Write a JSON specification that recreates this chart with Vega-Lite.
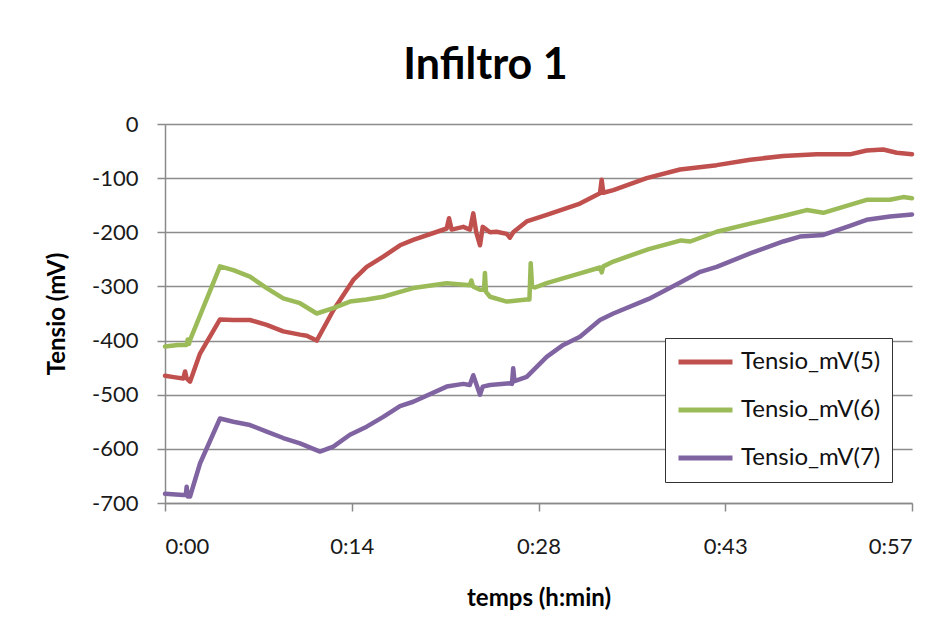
{
  "$schema": "https://vega.github.io/schema/vega-lite/v6.json",
  "width": 747,
  "height": 379,
  "autosize": {"type": "none"},
  "padding": {"left": 165, "top": 124, "right": 38, "bottom": 138},
  "background": "#ffffff",
  "title": {
    "text": "Infiltro 1",
    "font": "Lato",
    "fontSize": 43,
    "fontWeight": "bold",
    "color": "#000000",
    "anchor": "middle",
    "frame": "group",
    "dx": -53,
    "dy": 43,
    "offset": 34,
    "baseline": "alphabetic"
  },
  "config": {
    "font": "Lato",
    "view": {"stroke": null},
    "axis": {
      "domainColor": "#8a8a8a",
      "domainWidth": 1.5,
      "tickColor": "#8a8a8a",
      "tickWidth": 1.5,
      "tickSize": 8,
      "gridColor": "#8c8c8c",
      "gridWidth": 1.5,
      "labelFont": "Lato",
      "labelFontSize": 22,
      "labelColor": "#1a1a1a",
      "titleFont": "Lato",
      "titleFontSize": 24,
      "titleFontWeight": "bold",
      "titleColor": "#000000"
    },
    "legend": {
      "labelFont": "Lato"
    }
  },
  "data": {
    "values": [
      {"serie": "Tensio_mV(5)", "t": 0, "v": -465},
      {"serie": "Tensio_mV(5)", "t": 0.8, "v": -468},
      {"serie": "Tensio_mV(5)", "t": 1.41, "v": -470},
      {"serie": "Tensio_mV(5)", "t": 1.55, "v": -457},
      {"serie": "Tensio_mV(5)", "t": 1.67, "v": -470},
      {"serie": "Tensio_mV(5)", "t": 1.93, "v": -476},
      {"serie": "Tensio_mV(5)", "t": 2.7, "v": -424},
      {"serie": "Tensio_mV(5)", "t": 4.24, "v": -361},
      {"serie": "Tensio_mV(5)", "t": 5.27, "v": -362},
      {"serie": "Tensio_mV(5)", "t": 6.55, "v": -362},
      {"serie": "Tensio_mV(5)", "t": 7.84, "v": -371},
      {"serie": "Tensio_mV(5)", "t": 9.12, "v": -383},
      {"serie": "Tensio_mV(5)", "t": 10.41, "v": -389},
      {"serie": "Tensio_mV(5)", "t": 10.93, "v": -391},
      {"serie": "Tensio_mV(5)", "t": 11.7, "v": -400},
      {"serie": "Tensio_mV(5)", "t": 12.98, "v": -344},
      {"serie": "Tensio_mV(5)", "t": 14.52, "v": -288},
      {"serie": "Tensio_mV(5)", "t": 15.55, "v": -264},
      {"serie": "Tensio_mV(5)", "t": 16.83, "v": -245},
      {"serie": "Tensio_mV(5)", "t": 18.12, "v": -224},
      {"serie": "Tensio_mV(5)", "t": 19.14, "v": -214},
      {"serie": "Tensio_mV(5)", "t": 21.72, "v": -193},
      {"serie": "Tensio_mV(5)", "t": 21.9, "v": -174},
      {"serie": "Tensio_mV(5)", "t": 22.1, "v": -195},
      {"serie": "Tensio_mV(5)", "t": 23.0, "v": -190},
      {"serie": "Tensio_mV(5)", "t": 23.52, "v": -195},
      {"serie": "Tensio_mV(5)", "t": 23.77, "v": -165},
      {"serie": "Tensio_mV(5)", "t": 24.0, "v": -200},
      {"serie": "Tensio_mV(5)", "t": 24.29, "v": -224},
      {"serie": "Tensio_mV(5)", "t": 24.5, "v": -190},
      {"serie": "Tensio_mV(5)", "t": 25.06, "v": -200},
      {"serie": "Tensio_mV(5)", "t": 25.57, "v": -199},
      {"serie": "Tensio_mV(5)", "t": 26.35, "v": -203},
      {"serie": "Tensio_mV(5)", "t": 26.6, "v": -210},
      {"serie": "Tensio_mV(5)", "t": 26.85, "v": -200},
      {"serie": "Tensio_mV(5)", "t": 27.89, "v": -180},
      {"serie": "Tensio_mV(5)", "t": 29.43, "v": -168},
      {"serie": "Tensio_mV(5)", "t": 32.0, "v": -147},
      {"serie": "Tensio_mV(5)", "t": 33.54, "v": -128},
      {"serie": "Tensio_mV(5)", "t": 33.67, "v": -103},
      {"serie": "Tensio_mV(5)", "t": 33.8, "v": -127},
      {"serie": "Tensio_mV(5)", "t": 34.57, "v": -122},
      {"serie": "Tensio_mV(5)", "t": 37.14, "v": -100},
      {"serie": "Tensio_mV(5)", "t": 39.71, "v": -84},
      {"serie": "Tensio_mV(5)", "t": 42.54, "v": -76},
      {"serie": "Tensio_mV(5)", "t": 45.12, "v": -66},
      {"serie": "Tensio_mV(5)", "t": 47.67, "v": -59},
      {"serie": "Tensio_mV(5)", "t": 50.25, "v": -56},
      {"serie": "Tensio_mV(5)", "t": 52.81, "v": -56},
      {"serie": "Tensio_mV(5)", "t": 54.1, "v": -49},
      {"serie": "Tensio_mV(5)", "t": 55.38, "v": -47},
      {"serie": "Tensio_mV(5)", "t": 56.42, "v": -53},
      {"serie": "Tensio_mV(5)", "t": 57.6, "v": -56},

      {"serie": "Tensio_mV(6)", "t": 0, "v": -411},
      {"serie": "Tensio_mV(6)", "t": 1.0, "v": -408},
      {"serie": "Tensio_mV(6)", "t": 1.67, "v": -408},
      {"serie": "Tensio_mV(6)", "t": 1.75, "v": -398},
      {"serie": "Tensio_mV(6)", "t": 1.85, "v": -406},
      {"serie": "Tensio_mV(6)", "t": 1.93, "v": -399},
      {"serie": "Tensio_mV(6)", "t": 4.24, "v": -263},
      {"serie": "Tensio_mV(6)", "t": 5.27, "v": -270},
      {"serie": "Tensio_mV(6)", "t": 6.55, "v": -282},
      {"serie": "Tensio_mV(6)", "t": 7.84, "v": -303},
      {"serie": "Tensio_mV(6)", "t": 9.12, "v": -322},
      {"serie": "Tensio_mV(6)", "t": 10.41, "v": -331},
      {"serie": "Tensio_mV(6)", "t": 11.7, "v": -350},
      {"serie": "Tensio_mV(6)", "t": 12.98, "v": -340},
      {"serie": "Tensio_mV(6)", "t": 14.26, "v": -328},
      {"serie": "Tensio_mV(6)", "t": 15.55, "v": -324},
      {"serie": "Tensio_mV(6)", "t": 16.83, "v": -319},
      {"serie": "Tensio_mV(6)", "t": 18.12, "v": -310},
      {"serie": "Tensio_mV(6)", "t": 19.14, "v": -303},
      {"serie": "Tensio_mV(6)", "t": 21.72, "v": -294},
      {"serie": "Tensio_mV(6)", "t": 23.52, "v": -298},
      {"serie": "Tensio_mV(6)", "t": 23.62, "v": -289},
      {"serie": "Tensio_mV(6)", "t": 23.75, "v": -300},
      {"serie": "Tensio_mV(6)", "t": 24.29, "v": -306},
      {"serie": "Tensio_mV(6)", "t": 24.6, "v": -306},
      {"serie": "Tensio_mV(6)", "t": 24.67, "v": -275},
      {"serie": "Tensio_mV(6)", "t": 24.75, "v": -310},
      {"serie": "Tensio_mV(6)", "t": 25.06, "v": -319},
      {"serie": "Tensio_mV(6)", "t": 26.35, "v": -328},
      {"serie": "Tensio_mV(6)", "t": 27.89, "v": -324},
      {"serie": "Tensio_mV(6)", "t": 28.1, "v": -324},
      {"serie": "Tensio_mV(6)", "t": 28.2, "v": -257},
      {"serie": "Tensio_mV(6)", "t": 28.3, "v": -300},
      {"serie": "Tensio_mV(6)", "t": 28.53, "v": -302},
      {"serie": "Tensio_mV(6)", "t": 29.43, "v": -294},
      {"serie": "Tensio_mV(6)", "t": 32.0, "v": -276},
      {"serie": "Tensio_mV(6)", "t": 33.54, "v": -265},
      {"serie": "Tensio_mV(6)", "t": 33.67, "v": -274},
      {"serie": "Tensio_mV(6)", "t": 33.8, "v": -263},
      {"serie": "Tensio_mV(6)", "t": 34.57, "v": -254},
      {"serie": "Tensio_mV(6)", "t": 37.3, "v": -231},
      {"serie": "Tensio_mV(6)", "t": 39.8, "v": -215},
      {"serie": "Tensio_mV(6)", "t": 40.5, "v": -217},
      {"serie": "Tensio_mV(6)", "t": 42.54, "v": -199},
      {"serie": "Tensio_mV(6)", "t": 45.12, "v": -184},
      {"serie": "Tensio_mV(6)", "t": 47.67, "v": -170},
      {"serie": "Tensio_mV(6)", "t": 49.48, "v": -159},
      {"serie": "Tensio_mV(6)", "t": 50.76, "v": -164},
      {"serie": "Tensio_mV(6)", "t": 52.3, "v": -153},
      {"serie": "Tensio_mV(6)", "t": 54.1, "v": -140},
      {"serie": "Tensio_mV(6)", "t": 55.9, "v": -140},
      {"serie": "Tensio_mV(6)", "t": 56.92, "v": -135},
      {"serie": "Tensio_mV(6)", "t": 57.6, "v": -137},

      {"serie": "Tensio_mV(7)", "t": 0, "v": -683},
      {"serie": "Tensio_mV(7)", "t": 1.41, "v": -685},
      {"serie": "Tensio_mV(7)", "t": 1.6, "v": -685},
      {"serie": "Tensio_mV(7)", "t": 1.67, "v": -670},
      {"serie": "Tensio_mV(7)", "t": 1.75, "v": -688},
      {"serie": "Tensio_mV(7)", "t": 1.93, "v": -688},
      {"serie": "Tensio_mV(7)", "t": 2.7, "v": -627},
      {"serie": "Tensio_mV(7)", "t": 4.24, "v": -544},
      {"serie": "Tensio_mV(7)", "t": 5.27, "v": -550},
      {"serie": "Tensio_mV(7)", "t": 6.55, "v": -556},
      {"serie": "Tensio_mV(7)", "t": 7.84, "v": -568},
      {"serie": "Tensio_mV(7)", "t": 9.12, "v": -580},
      {"serie": "Tensio_mV(7)", "t": 10.41, "v": -590},
      {"serie": "Tensio_mV(7)", "t": 11.95, "v": -605},
      {"serie": "Tensio_mV(7)", "t": 12.98, "v": -596},
      {"serie": "Tensio_mV(7)", "t": 14.26, "v": -574},
      {"serie": "Tensio_mV(7)", "t": 15.55, "v": -559},
      {"serie": "Tensio_mV(7)", "t": 16.83, "v": -541},
      {"serie": "Tensio_mV(7)", "t": 18.12, "v": -521},
      {"serie": "Tensio_mV(7)", "t": 19.14, "v": -513},
      {"serie": "Tensio_mV(7)", "t": 21.72, "v": -485},
      {"serie": "Tensio_mV(7)", "t": 23.0, "v": -480},
      {"serie": "Tensio_mV(7)", "t": 23.5, "v": -482},
      {"serie": "Tensio_mV(7)", "t": 23.77, "v": -464},
      {"serie": "Tensio_mV(7)", "t": 24.0, "v": -480},
      {"serie": "Tensio_mV(7)", "t": 24.29, "v": -500},
      {"serie": "Tensio_mV(7)", "t": 24.5, "v": -485},
      {"serie": "Tensio_mV(7)", "t": 25.06, "v": -482},
      {"serie": "Tensio_mV(7)", "t": 26.6, "v": -479},
      {"serie": "Tensio_mV(7)", "t": 26.75, "v": -480},
      {"serie": "Tensio_mV(7)", "t": 26.85, "v": -451},
      {"serie": "Tensio_mV(7)", "t": 26.95, "v": -475},
      {"serie": "Tensio_mV(7)", "t": 27.89, "v": -467},
      {"serie": "Tensio_mV(7)", "t": 29.43, "v": -430},
      {"serie": "Tensio_mV(7)", "t": 30.71, "v": -408},
      {"serie": "Tensio_mV(7)", "t": 32.0, "v": -393},
      {"serie": "Tensio_mV(7)", "t": 33.54, "v": -362},
      {"serie": "Tensio_mV(7)", "t": 34.57, "v": -350},
      {"serie": "Tensio_mV(7)", "t": 37.3, "v": -323},
      {"serie": "Tensio_mV(7)", "t": 39.8, "v": -292},
      {"serie": "Tensio_mV(7)", "t": 41.27, "v": -273},
      {"serie": "Tensio_mV(7)", "t": 42.54, "v": -264},
      {"serie": "Tensio_mV(7)", "t": 45.12, "v": -239},
      {"serie": "Tensio_mV(7)", "t": 47.67, "v": -217},
      {"serie": "Tensio_mV(7)", "t": 48.96, "v": -208},
      {"serie": "Tensio_mV(7)", "t": 50.76, "v": -205},
      {"serie": "Tensio_mV(7)", "t": 52.81, "v": -188},
      {"serie": "Tensio_mV(7)", "t": 54.1, "v": -177},
      {"serie": "Tensio_mV(7)", "t": 55.9, "v": -171},
      {"serie": "Tensio_mV(7)", "t": 57.6, "v": -167}
    ]
  },
  "mark": {"type": "line", "strokeWidth": 4.5, "strokeJoin": "round", "strokeCap": "round"},
  "encoding": {
    "x": {
      "field": "t",
      "type": "quantitative",
      "scale": {"domain": [0, 57.6], "nice": false, "zero": false},
      "axis": {
        "title": "temps (h:min)",
        "values": [0, 14.4, 28.8, 43.2, 57.6],
        "labelExpr": "'0:' + (floor(datum.value) < 10 ? '0' : '') + floor(datum.value)",
        "grid": false,
        "labelPadding": 25,
        "titlePadding": 29
      }
    },
    "y": {
      "field": "v",
      "type": "quantitative",
      "scale": {"domain": [-700, 0], "nice": false},
      "axis": {
        "title": "Tensio (mV)",
        "values": [-700, -600, -500, -400, -300, -200, -100, 0],
        "labelExpr": "'' + datum.value",
        "labelPadding": 19,
        "titlePadding": 22
      }
    },
    "color": {
      "field": "serie",
      "type": "nominal",
      "scale": {
        "domain": ["Tensio_mV(5)", "Tensio_mV(6)", "Tensio_mV(7)"],
        "range": ["#C0504D", "#9BBB59", "#8064A2"]
      },
      "legend": {
        "title": null,
        "orient": "none",
        "legendX": 500,
        "legendY": 214,
        "symbolType": "stroke",
        "symbolSize": 2916,
        "symbolStrokeWidth": 5,
        "clipHeight": 26,
        "rowPadding": 22,
        "padding": 11,
        "labelOffset": 6,
        "labelFontSize": 24,
        "labelColor": "#111111",
        "strokeColor": "#333333",
        "fillColor": "#ffffff"
      }
    }
  }
}
